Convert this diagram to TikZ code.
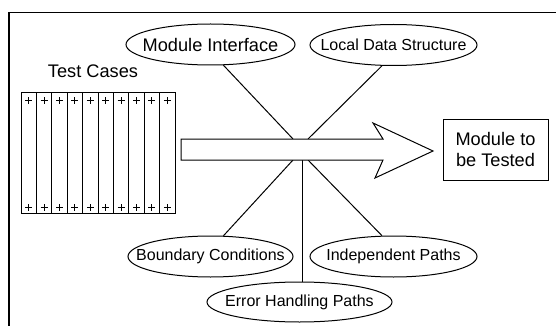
\documentclass[tikz,border=0pt]{standalone}
\usepackage{fontspec}
\setmainfont{Liberation Sans}
\usetikzlibrary{shapes.geometric}
\begin{document}
\begin{tikzpicture}[x=1pt,y=-1pt,line width=1pt,
  oval/.style={ellipse,draw,inner sep=0pt,minimum height=41pt,font=\fontsize{16}{18}\selectfont},
  bigtxt/.style={font=\fontsize{18.2}{21}\selectfont},
  frameline/.style={line width=1.2pt}]
\useasboundingbox (0,0) rectangle (556,326);
\clip (0,0) rectangle (556,326);
\draw[frameline] (9,12.7) rectangle (600,360);
% test cases
\node[bigtxt,anchor=base] (tc) at (93,78) {Test Cases};
\foreach \i in {0,...,9}{
  \pgfmathsetmacro\xa{21+\i*15.4}
  \pgfmathsetmacro\xb{21+(\i+1)*15.4}
  \pgfmathsetmacro\cx{21+(\i+0.5)*15.4}
  \draw (\xa,93) rectangle (\xb,213);
  \draw (\cx-3.5,101) -- (\cx+3.5,101) (\cx,97.5) -- (\cx,104.5);
  \draw (\cx-3.5,207.5) -- (\cx+3.5,207.5) (\cx,204) -- (\cx,211);
}
% ellipses
\node[oval,minimum width=169pt,bigtxt] (mi) at (210.5,44.5) {\makebox[0pt]{Module Interface}};
\node[oval,minimum width=167pt] (lds) at (393.5,45) {\makebox[0pt]{Local Data Structure}};
\node[oval,minimum width=165pt] (bc) at (210.5,256.5) {\makebox[0pt]{Boundary Conditions}};
\node[oval,minimum width=167pt] (ip) at (393.5,256.5) {\makebox[0pt]{Independent Paths}};
\node[oval,minimum width=185pt,minimum height=40pt] (ehp) at (299.5,302) {\makebox[0pt]{Error Handling Paths}};
% box
\node[draw,bigtxt,minimum width=105pt,minimum height=61pt,inner sep=0pt,align=center] (mut) at (495.5,149.5) {Module to\\be Tested};
% connector end points on the arrow
\coordinate (a1) at (293,139);
\coordinate (a2) at (308,139);
\coordinate (b1) at (293,160);
\coordinate (b2) at (302,160);
\coordinate (b3) at (308,160);
\draw (mi.-58.6) -- (a1);
\draw (lds.-119) -- (a2);
\draw (bc.58.6) -- (b1);
\draw (ip.119) -- (b3);
\draw (b2) -- (b2 |- ehp.north);
% big arrow
\draw[fill=white,line join=miter] (181,139) -- (383,139) -- (373,123) -- (433,151) -- (375,178) -- (383,160) -- (181,160) -- cycle;
\end{tikzpicture}
\end{document}
